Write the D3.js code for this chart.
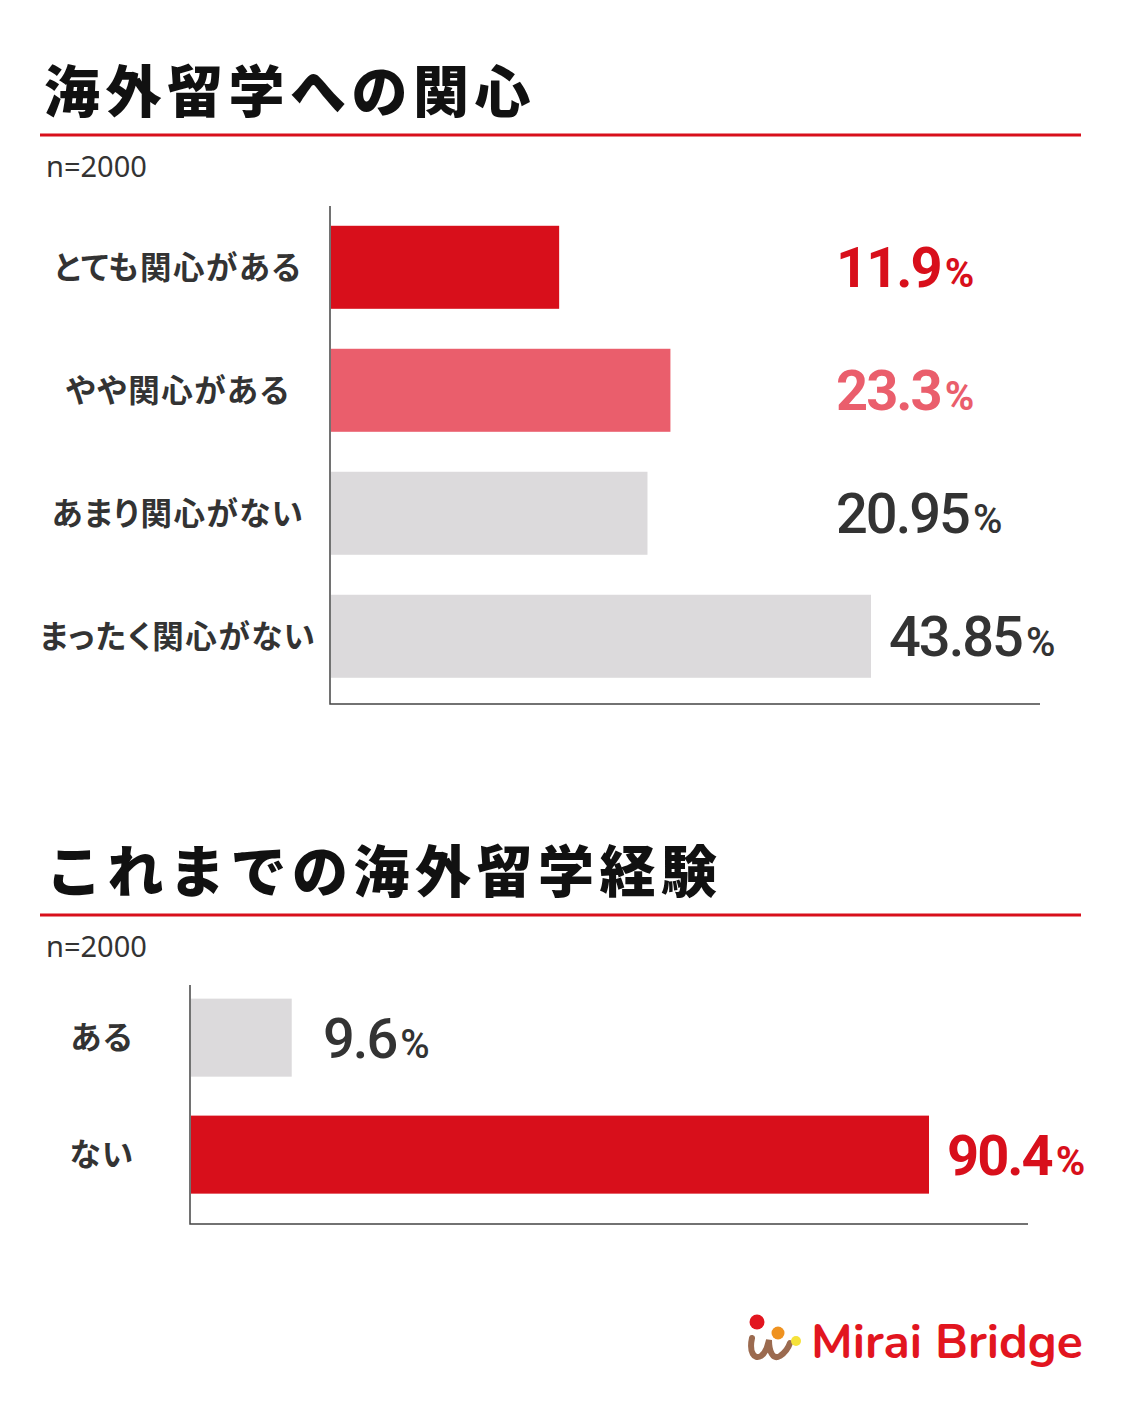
<!DOCTYPE html>
<html>
<head>
<meta charset="utf-8">
<script src="https://cdn.jsdelivr.net/npm/d3@7"></script>
<style>
  body { margin: 0; background: #fff; }
  svg { display: block; }
  .title { font-family: "Noto Sans CJK JP", sans-serif; font-weight: 900; font-size: 56px; fill: #111; letter-spacing: 5.5px; }
  .n { font-family: "Noto Sans", Roboto, sans-serif; font-size: 29px; fill: #333; }
  .cat { font-family: "Noto Sans CJK JP", sans-serif; font-weight: 700; font-size: 31.5px; fill: #333; letter-spacing: 1.5px; font-feature-settings: "palt"; }
  .val { font-family: Roboto, sans-serif; letter-spacing: -2px; }
</style>
</head>
<body>
<div id="graphic"></div>
<script>
// chart data
const interestCategories = ['とても関心がある', 'やや関心がある', 'あまり関心がない', 'まったく関心がない'];
const interestValues = [11.9, 23.3, 20.95, 43.85];
const experienceCategories = ['ある', 'ない'];
const experienceValues = [9.6, 90.4];
const sampleText = 'n=2000';

const red = '#d80f1b', pink = '#ea5e6c', grey = '#dcdadc', dark = '#333333';

const svg = d3.select('#graphic').append('svg')
  .attr('width', 1122)
  .attr('height', 1402);

function drawChart(opt) {
  const g = svg.append('g');

  // title + red rule + sample size
  g.append('text').attr('class', 'title')
    .attr('x', opt.titleX).attr('y', opt.titleY)
    .text(opt.title);
  g.append('line')
    .attr('x1', 40).attr('x2', 1081)
    .attr('y1', opt.titleY + 23).attr('y2', opt.titleY + 23)
    .attr('stroke', red).attr('stroke-width', 3);
  g.append('text').attr('class', 'n')
    .attr('x', 46).attr('y', opt.titleY + 65)
    .text(sampleText);

  // bar lengths are not strictly proportional in the original, hence the offset range
  const x = d3.scaleLinear()
    .domain([0, d3.max(opt.values)])
    .range([opt.left + opt.offset, opt.left + opt.maxLen]);

  const y = d3.scaleBand()
    .domain(opt.categories)
    .range([opt.top, opt.bottom])
    .paddingInner(opt.padIn)
    .paddingOuter(opt.padOut)
    .align(opt.align);

  const rows = opt.categories.map((c, i) => ({ cat: c, value: opt.values[i], i: i }));

  g.selectAll('rect.bar')
    .data(rows)
    .join('rect')
    .attr('class', 'bar')
    .attr('x', opt.left + 1)
    .attr('y', d => y(d.cat))
    .attr('width', d => x(d.value) - opt.left - 1)
    .attr('height', y.bandwidth())
    .attr('fill', d => opt.barColours[d.i]);

  // axis lines
  g.append('path')
    .attr('d', `M${opt.left},${opt.top}V${opt.bottom}H${opt.axisEnd}`)
    .attr('fill', 'none')
    .attr('stroke', '#444')
    .attr('stroke-width', 1.5);

  // category labels
  g.selectAll('text.cat')
    .data(rows)
    .join('text')
    .attr('class', 'cat')
    .attr('x', opt.labelX)
    .attr('y', d => y(d.cat) + y.bandwidth() / 2)
    .attr('dy', '0.36em')
    .attr('text-anchor', 'middle')
    .text(d => d.cat);

  // value labels
  const vals = g.selectAll('text.val')
    .data(rows)
    .join('text')
    .attr('class', 'val')
    .attr('font-size', 56)
    .attr('x', d => Math.max(opt.valueMinX, x(d.value) + 18))
    .attr('y', d => y(d.cat) + y.bandwidth() / 2)
    .attr('dy', '0.36em')
    .attr('fill', d => opt.textColours[d.i])
    .attr('font-weight', d => opt.textColours[d.i] === dark ? 500 : 700);

  vals.append('tspan')
    .text(d => d.value);
  vals.append('tspan')
    .attr('font-size', 40)
    .attr('dx', 4)
    .text('%');
}

drawChart({
  title: '海外留学への関心',
  titleX: 44, titleY: 112,
  categories: interestCategories,
  values: interestValues,
  barColours: [red, pink, grey, grey],
  textColours: [red, pink, dark, dark],
  left: 330, top: 206, bottom: 704, axisEnd: 1040,
  offset: 113, maxLen: 541,
  padIn: 0.325, padOut: 0.187, align: 0.43,
  labelX: 178, valueMinX: 836
});

drawChart({
  title: 'これまでの海外留学経験',
  titleX: 46, titleY: 892,
  categories: experienceCategories,
  values: experienceValues,
  barColours: [grey, red],
  textColours: [dark, red],
  left: 190, top: 985, bottom: 1224, axisEnd: 1028,
  offset: 26, maxLen: 739,
  padIn: 0.333, padOut: 0.188, align: 0.31,
  labelX: 102, valueMinX: 323
});

// logo
const logo = svg.append('g');
logo.append('path')
  .attr('d', 'M752,1338 C749,1352 754,1360 761,1356 C767,1352 768,1344 769,1340 C769,1352 773,1360 780,1356 C786,1352 789,1346 790,1343')
  .attr('fill', 'none')
  .attr('stroke', '#9b6a4f')
  .attr('stroke-width', 6)
  .attr('stroke-linecap', 'round');
logo.append('circle').attr('cx', 757).attr('cy', 1322).attr('r', 7.5).attr('fill', '#e2151f');
logo.append('circle').attr('cx', 778).attr('cy', 1333).attr('r', 6.5).attr('fill', '#ef9220');
logo.append('circle').attr('cx', 796).attr('cy', 1341).attr('r', 5).attr('fill', '#f6e23a');
logo.append('text')
  .attr('x', 811).attr('y', 1358)
  .attr('font-family', 'Nunito, "Noto Sans", sans-serif')
  .attr('font-weight', 700)
  .attr('font-size', 48)
  .attr('fill', '#e2151f')
  .text('Mirai Bridge');
</script>
</body>
</html>
